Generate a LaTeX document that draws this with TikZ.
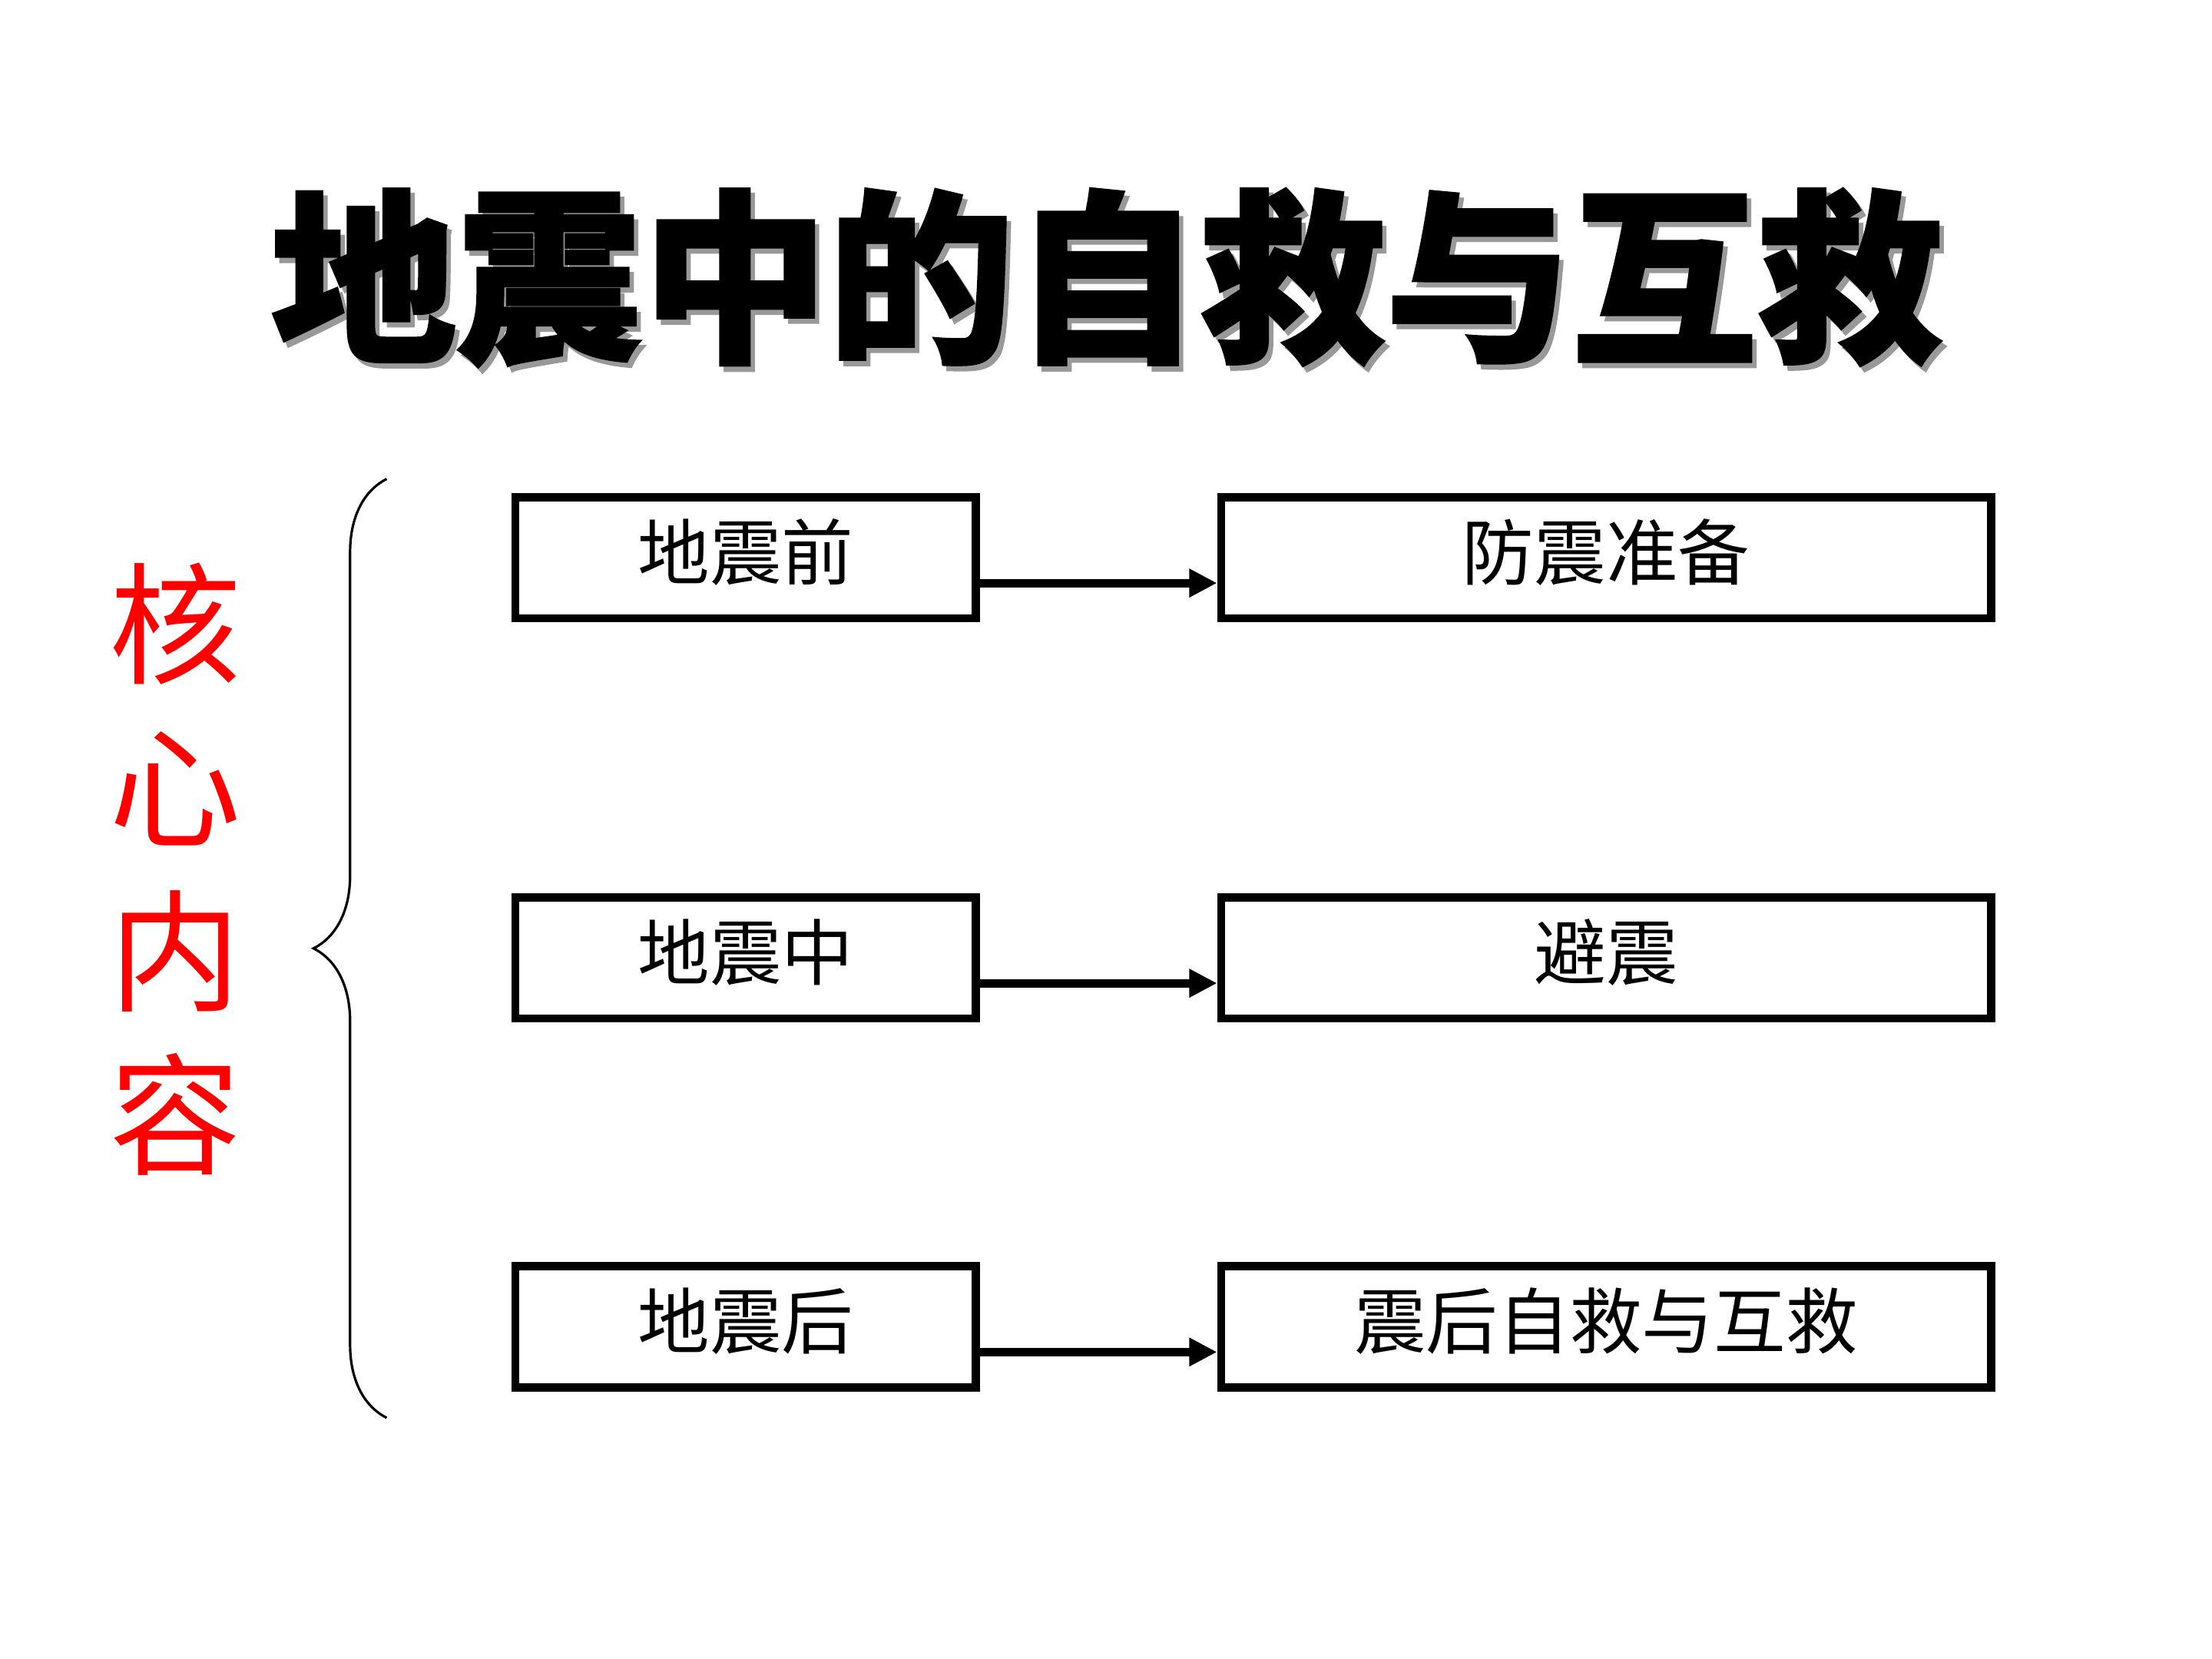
\documentclass[tikz,border=0pt]{standalone}
\usepackage{fontspec}
\setmainfont{Noto Sans CJK SC}
\newfontfamily\headfont{Noto Sans CJK SC}[BoldFeatures={FakeBold=1.5}]
\usepackage{tikz}
\usetikzlibrary{arrows.meta}
\usetikzlibrary{decorations.pathreplacing}

\begin{document}
\begin{tikzpicture}[thick,ampersand replacement=\&]
\tikzset{
stage/.style = {draw,line width=2.7pt,minimum width=5.29cm,minimum height=1.39cm,inner sep=0pt,text height=20.7pt,text depth=6.4pt,font=\fontsize{23.5}{28}\selectfont},
action/.style = {stage,minimum width=8.84cm},
flow/.style = {line width=2.7pt,-{Triangle[length=3.2mm,width=3.1mm]}},
corelabel/.style = {text=red,align=center,font=\fontsize{43}{53.4}\selectfont},
headline/.style = {font=\headfont\bfseries\fontsize{60.7}{72}\selectfont},
}
\useasboundingbox (0,0) rectangle (25.4,-19.05);
    %
% Title, shadow first.
\node[headline,text=black!40] (headshadow) at (12.76,-3.25) {地震中的自救与互救};
\node[headline] (head) at (12.71,-3.19) {地震中的自救与互救};
% Red label on the left.
\node[corelabel] (core) at (2.01,-9.98) {核\\心\\内\\容};
% Brace.
\coordinate (bracebot) at (4.44,-16.28);
\coordinate (bracetop) at (4.44,-5.50);
\draw[decorate,decoration={brace,amplitude=0.84cm}] (bracebot) -- (bracetop);
    %
\matrix[row sep=2.75cm, column sep=2.72cm] (chart) at (14.39,-10.82) {
    % First row.
\node[stage] (before) {地震前};
\&\node[action] (prep) {防震准备};\\[0.36cm]
    % Second row.
\node[stage] (during) {地震中};
\&\node[action] (avoid) {避震};\\
    % Third row.
\node[stage] (after) {地震后};
\&\node[action] (rescue) {震后自救与互救};\\
};

% Arrows, a bit below the middle.
\draw[flow] ([yshift=-0.29cm]before.east) -- ([yshift=-0.29cm]prep.west);
\draw[flow] ([yshift=-0.29cm]during.east) -- ([yshift=-0.29cm]avoid.west);
\draw[flow] ([yshift=-0.29cm]after.east) -- ([yshift=-0.29cm]rescue.west);
    %
\end{tikzpicture}
\end{document}
